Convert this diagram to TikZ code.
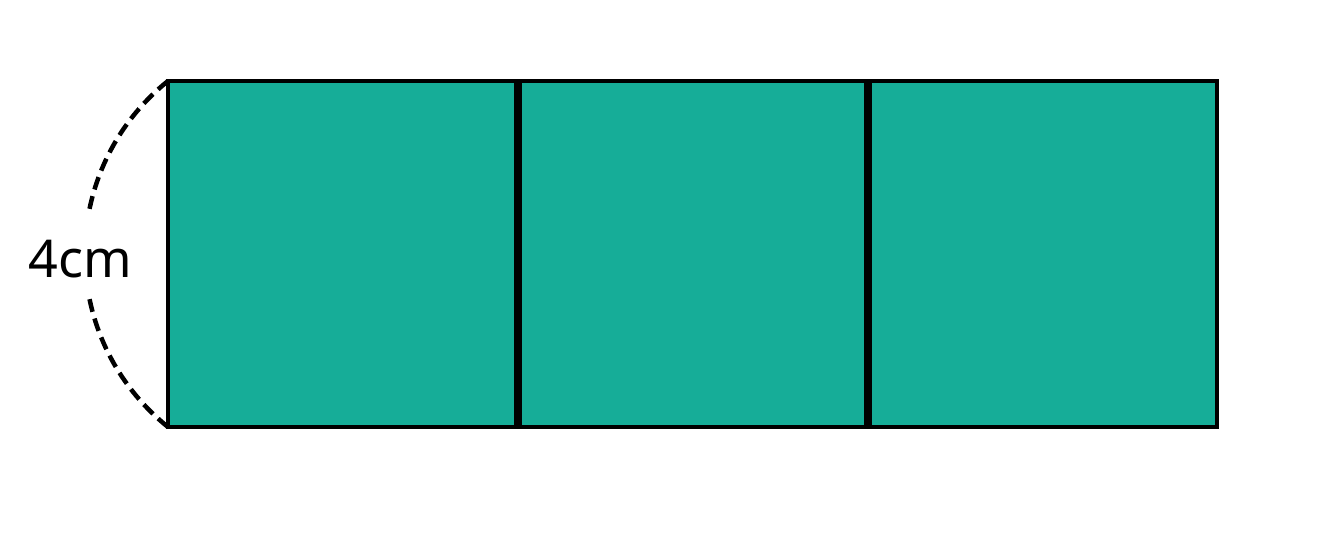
\documentclass[tikz,border=0pt]{standalone}
\usepackage{fontspec}
\setmainfont{Noto Sans}
\definecolor{tealfill}{RGB}{22,173,152}
\begin{document}
\begin{tikzpicture}[x=1pt,y=1pt,
  sq/.style={draw=black,fill=tealfill,line width=4.5pt,minimum width=348pt,minimum height=346pt,inner sep=0pt,outer sep=0pt,anchor=south west},
  dimarc/.style={draw=black,line width=4.5pt,dash pattern=on 13pt off 7pt}]
\useasboundingbox (0,0) rectangle (1319,538);
\node[sq] (s1) at (168,111) {};
\node[sq,minimum width=346pt] (s2) at (520,111) {};
\node[sq,minimum width=347pt] (s3) at (870,111) {};
\node[font=\fontsize{52}{60}\selectfont,inner sep=0pt] (lbl) at (80,279) {4cm};
\draw[dimarc] (s1.north west) arc[start angle=128.7,end angle=169.9,radius=221.8];
\draw[dimarc] (s1.south west) arc[start angle=231.3,end angle=190.6,radius=221.8];
\end{tikzpicture}
\end{document}
